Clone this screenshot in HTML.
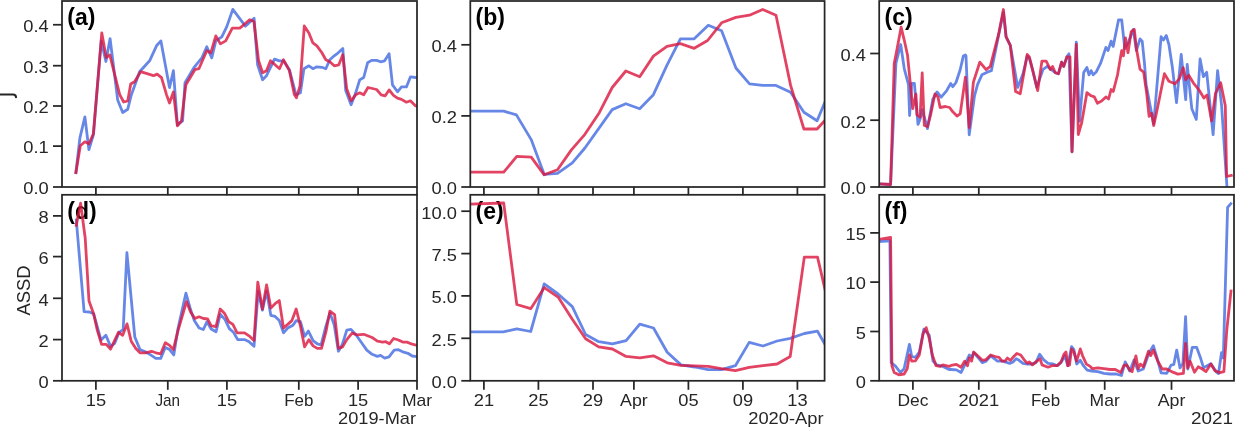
<!DOCTYPE html><html><head><meta charset="utf-8"><style>html,body{margin:0;padding:0;background:#fff;overflow:hidden}svg{display:block;will-change:transform}</style></head><body><svg width="1235" height="427" viewBox="0 0 1235 427">
<rect width="1235" height="427" fill="#fff"/>
<g font-family="&quot;Liberation Sans&quot;, sans-serif" fill="#262626">
<clipPath id="clipa"><rect x="62" y="1.0" width="355" height="186.0"/></clipPath>
<text x="67.3" y="24.7" font-size="23" font-weight="bold" fill="#000">(a)</text>
<polyline clip-path="url(#clipa)" points="75.9,172.6 79.9,137.8 84.9,116.9 88.9,149.7 93.4,134.8 101.2,41.0 105.9,61.5 110.1,38.6 117.7,100.0 122.7,112.5 127.7,109.3 131.3,95.0 139.6,71.7 149.6,60.8 156.5,45.8 160.9,40.9 169.5,87.6 173.4,70.7 177.4,124.9 182.6,120.9 185.0,82.7 193.9,67.7 201.9,57.8 206.8,46.8 211.8,57.8 215.8,40.9 221.8,36.9 226.7,26.9 232.8,9.4 245.4,26.2 254.1,18.3 257.6,64.8 262.6,79.7 266.5,75.7 274.5,59.2 279.5,60.8 283.5,60.8 289.4,69.7 296.0,94.8 300.4,92.8 303.9,68.7 308.9,65.8 312.9,68.7 316.9,66.8 321.9,67.3 325.8,68.7 329.8,59.8 334.2,55.8 338.2,52.8 342.8,48.4 345.7,90.6 351.1,104.8 355.7,92.8 359.7,79.9 363.7,77.5 367.6,62.8 371.6,60.4 376.6,60.4 380.6,61.8 384.6,60.8 389.1,53.8 392.5,84.9 397.5,91.8 401.5,86.9 406.4,86.9 410.4,76.9 415.4,77.5 419.0,77.5" fill="none" stroke="rgba(65,105,225,0.8)" stroke-width="2.8" stroke-linejoin="round" stroke-linecap="square"/>
<polyline clip-path="url(#clipa)" points="75.9,172.6 80.3,145.7 84.9,141.8 88.9,143.8 93.4,133.8 101.8,32.9 106.2,57.5 109.8,55.0 119.7,94.6 123.7,102.0 127.7,101.0 130.7,84.0 134.6,81.7 140.6,71.7 153.5,75.7 157.1,74.1 161.5,77.7 166.5,94.6 169.5,103.0 173.4,92.0 177.4,125.8 181.4,120.9 185.9,84.7 194.9,69.7 198.9,68.7 206.8,50.8 210.8,52.8 215.8,35.9 220.4,43.9 225.7,40.9 232.3,28.1 239.8,28.1 242.6,25.8 249.6,19.7 253.9,21.5 258.6,60.8 262.6,72.7 266.5,70.7 270.5,60.8 279.5,68.7 283.5,59.8 289.4,70.7 294.4,94.6 296.4,97.8 300.0,85.9 304.3,25.9 308.9,32.9 312.9,42.9 316.9,45.9 321.9,52.8 325.8,59.8 329.8,61.8 334.2,65.8 338.8,64.8 342.8,54.8 346.7,88.6 351.1,100.8 355.7,94.8 359.7,92.8 363.7,94.8 368.0,87.5 376.6,89.5 381.2,94.8 385.2,95.8 389.1,89.9 393.5,95.4 397.5,98.2 401.5,99.4 406.4,102.2 410.4,100.8 415.4,105.8 419.0,106.0" fill="none" stroke="rgba(220,20,60,0.8)" stroke-width="2.8" stroke-linejoin="round" stroke-linecap="square"/>
<rect x="62" y="1.0" width="355" height="186.0" fill="none" stroke="#262626" stroke-width="1.75"/>
<line x1="53.0" y1="24.75" x2="62" y2="24.75" stroke="#262626" stroke-width="1.75"/>
<text x="48.70" y="32.05" text-anchor="end" font-size="17.0" textLength="25.44" lengthAdjust="spacingAndGlyphs">0.4</text>
<line x1="53.0" y1="65.7" x2="62" y2="65.7" stroke="#262626" stroke-width="1.75"/>
<text x="48.70" y="73.00" text-anchor="end" font-size="17.0" textLength="25.44" lengthAdjust="spacingAndGlyphs">0.3</text>
<line x1="53.0" y1="106.0" x2="62" y2="106.0" stroke="#262626" stroke-width="1.75"/>
<text x="48.70" y="113.30" text-anchor="end" font-size="17.0" textLength="25.44" lengthAdjust="spacingAndGlyphs">0.2</text>
<line x1="53.0" y1="146.1" x2="62" y2="146.1" stroke="#262626" stroke-width="1.75"/>
<text x="48.70" y="153.40" text-anchor="end" font-size="17.0" textLength="25.44" lengthAdjust="spacingAndGlyphs">0.1</text>
<line x1="53.0" y1="187.0" x2="62" y2="187.0" stroke="#262626" stroke-width="1.75"/>
<text x="48.70" y="194.30" text-anchor="end" font-size="17.0" textLength="25.44" lengthAdjust="spacingAndGlyphs">0.0</text>
<line x1="95.9" y1="187.0" x2="95.9" y2="195.2" stroke="#262626" stroke-width="1.75"/>
<line x1="167.8" y1="187.0" x2="167.8" y2="195.2" stroke="#262626" stroke-width="1.75"/>
<line x1="226.9" y1="187.0" x2="226.9" y2="195.2" stroke="#262626" stroke-width="1.75"/>
<line x1="298.8" y1="187.0" x2="298.8" y2="195.2" stroke="#262626" stroke-width="1.75"/>
<line x1="358.1" y1="187.0" x2="358.1" y2="195.2" stroke="#262626" stroke-width="1.75"/>
<line x1="417.0" y1="187.0" x2="417.0" y2="195.2" stroke="#262626" stroke-width="1.75"/>
<clipPath id="clipb"><rect x="470.3" y="1.0" width="354.3" height="186.0"/></clipPath>
<text x="475.6" y="24.7" font-size="23" font-weight="bold" fill="#000">(b)</text>
<polyline clip-path="url(#clipb)" points="470.0,111.1 503.7,111.1 516.4,114.9 531.2,139.6 544.2,174.4 557.5,173.3 572.3,162.8 584.9,148.0 612.2,109.6 625.8,103.7 639.7,108.8 653.4,94.7 667.0,65.1 680.4,38.8 694.2,38.8 708.3,25.3 721.6,30.7 735.9,68.0 749.5,83.8 762.7,85.4 776.0,85.4 790.6,92.3 803.9,112.3 817.1,120.8 830.0,90.0" fill="none" stroke="rgba(65,105,225,0.8)" stroke-width="2.8" stroke-linejoin="round" stroke-linecap="square"/>
<polyline clip-path="url(#clipb)" points="470.0,172.2 503.7,172.2 516.8,156.4 531.2,157.1 544.2,174.8 557.5,169.7 571.2,150.1 584.9,134.3 599.3,112.7 612.2,87.5 625.8,71.0 639.7,76.7 653.4,56.1 667.0,46.3 680.4,43.7 694.2,48.3 707.6,40.5 721.6,22.8 735.9,17.4 749.5,15.2 762.7,9.5 776.0,15.2 790.6,85.4 803.9,129.0 817.1,129.0 830.0,115.0" fill="none" stroke="rgba(220,20,60,0.8)" stroke-width="2.8" stroke-linejoin="round" stroke-linecap="square"/>
<rect x="470.3" y="1.0" width="354.3" height="186.0" fill="none" stroke="#262626" stroke-width="1.75"/>
<line x1="461.3" y1="44.8" x2="470.3" y2="44.8" stroke="#262626" stroke-width="1.75"/>
<text x="457.00" y="52.10" text-anchor="end" font-size="17.0" textLength="25.44" lengthAdjust="spacingAndGlyphs">0.4</text>
<line x1="461.3" y1="115.9" x2="470.3" y2="115.9" stroke="#262626" stroke-width="1.75"/>
<text x="457.00" y="123.20" text-anchor="end" font-size="17.0" textLength="25.44" lengthAdjust="spacingAndGlyphs">0.2</text>
<line x1="461.3" y1="187.0" x2="470.3" y2="187.0" stroke="#262626" stroke-width="1.75"/>
<text x="457.00" y="194.30" text-anchor="end" font-size="17.0" textLength="25.44" lengthAdjust="spacingAndGlyphs">0.0</text>
<line x1="483.9" y1="187.0" x2="483.9" y2="195.2" stroke="#262626" stroke-width="1.75"/>
<line x1="538.4" y1="187.0" x2="538.4" y2="195.2" stroke="#262626" stroke-width="1.75"/>
<line x1="593.0" y1="187.0" x2="593.0" y2="195.2" stroke="#262626" stroke-width="1.75"/>
<line x1="633.9" y1="187.0" x2="633.9" y2="195.2" stroke="#262626" stroke-width="1.75"/>
<line x1="688.4" y1="187.0" x2="688.4" y2="195.2" stroke="#262626" stroke-width="1.75"/>
<line x1="742.9" y1="187.0" x2="742.9" y2="195.2" stroke="#262626" stroke-width="1.75"/>
<line x1="797.4" y1="187.0" x2="797.4" y2="195.2" stroke="#262626" stroke-width="1.75"/>
<clipPath id="clipc"><rect x="879.2" y="1.0" width="354.79999999999995" height="186.0"/></clipPath>
<text x="884.5" y="24.7" font-size="23" font-weight="bold" fill="#000">(c)</text>
<polyline clip-path="url(#clipc)" points="879.0,183.8 890.6,184.5 895.9,63.5 900.7,44.5 904.3,68.8 908.5,84.6 909.6,115.5 911.7,83.5 914.4,83.5 918.0,124.4 920.1,119.1 922.2,109.6 927.5,128.6 932.8,99.3 937.0,92.0 941.2,97.2 946.5,90.9 950.7,83.5 952.8,86.7 956.0,82.5 960.2,69.8 963.3,56.1 965.4,55.0 966.0,56.0 969.2,134.8 974.5,95.8 977.6,84.3 981.9,74.8 988.2,71.7 991.4,70.6 998.7,35.0 1003.4,12.0 1006.1,36.9 1010.3,45.3 1017.7,87.4 1023.0,73.8 1027.2,56.0 1029.3,58.0 1032.5,69.5 1036.7,87.4 1043.0,69.5 1047.2,66.3 1051.4,69.6 1055.3,72.7 1058.4,73.8 1061.6,62.2 1063.7,66.4 1066.9,56.9 1069.0,53.8 1072.0,151.8 1076.3,42.2 1079.5,121.1 1083.7,72.6 1086.9,67.5 1089.0,74.8 1091.1,70.6 1093.2,74.8 1096.4,71.7 1100.6,63.2 1105.9,47.4 1108.0,50.6 1111.1,41.1 1113.2,46.4 1118.5,20.0 1121.7,20.0 1124.8,48.5 1128.4,42.2 1133.3,29.5 1136.4,50.6 1140.0,38.9 1142.2,41.2 1144.4,62.3 1146.1,84.4 1150.7,108.7 1153.7,124.0 1161.1,36.7 1163.4,40.0 1166.3,35.6 1168.9,44.5 1172.3,66.7 1176.5,102.6 1181.2,54.5 1185.7,99.6 1187.2,64.5 1191.8,108.7 1196.3,119.4 1200.1,59.0 1203.4,76.7 1206.7,72.3 1213.1,134.6 1217.6,70.7 1221.6,105.7 1227.5,195.0" fill="none" stroke="rgba(65,105,225,0.8)" stroke-width="2.8" stroke-linejoin="round" stroke-linecap="square"/>
<polyline clip-path="url(#clipc)" points="879.0,183.8 890.6,184.5 894.2,63.5 896.9,49.8 901.1,27.2 904.3,40.3 907.5,55.0 909.6,76.1 912.7,108.6 915.9,94.0 917.0,114.9 920.1,117.0 922.2,73.0 924.3,125.5 927.5,126.5 930.6,114.9 934.9,94.0 938.0,97.0 940.1,107.5 945.4,106.5 949.6,107.5 952.8,111.8 957.0,116.0 960.2,113.9 965.4,77.2 969.2,127.5 973.4,82.1 979.8,62.2 986.1,69.6 990.3,66.4 998.7,33.7 1003.4,9.5 1006.1,36.9 1010.3,45.3 1015.6,91.6 1020.2,93.7 1027.2,54.4 1029.3,56.9 1032.5,69.5 1037.7,90.6 1041.9,61.1 1046.2,61.1 1050.4,69.6 1052.5,66.4 1055.3,72.7 1058.4,73.8 1061.6,62.2 1063.7,66.4 1066.9,56.9 1070.0,56.9 1072.0,151.8 1076.3,44.3 1078.3,134.5 1081.6,123.2 1086.9,92.7 1091.1,95.8 1094.3,96.9 1097.4,103.2 1101.6,101.1 1105.9,96.9 1108.6,99.0 1111.1,89.5 1113.2,91.6 1117.5,75.0 1121.7,50.6 1123.4,55.9 1125.5,37.9 1128.0,52.7 1131.2,31.6 1134.3,29.5 1136.4,48.5 1140.0,69.1 1143.7,72.2 1146.7,93.5 1149.1,116.3 1151.6,113.3 1153.7,125.5 1156.7,111.8 1159.8,96.5 1164.4,73.7 1168.9,81.3 1175.0,83.8 1179.6,78.3 1183.2,67.6 1185.7,79.8 1188.7,75.2 1193.3,82.8 1199.4,90.5 1203.9,98.1 1207.0,95.0 1211.6,120.9 1215.5,93.5 1220.7,82.8 1225.3,105.7 1226.6,176.5 1231.3,175.4" fill="none" stroke="rgba(220,20,60,0.8)" stroke-width="2.8" stroke-linejoin="round" stroke-linecap="square"/>
<rect x="879.2" y="1.0" width="354.79999999999995" height="186.0" fill="none" stroke="#262626" stroke-width="1.75"/>
<line x1="870.2" y1="53.5" x2="879.2" y2="53.5" stroke="#262626" stroke-width="1.75"/>
<text x="865.90" y="60.80" text-anchor="end" font-size="17.0" textLength="25.44" lengthAdjust="spacingAndGlyphs">0.4</text>
<line x1="870.2" y1="120.2" x2="879.2" y2="120.2" stroke="#262626" stroke-width="1.75"/>
<text x="865.90" y="127.50" text-anchor="end" font-size="17.0" textLength="25.44" lengthAdjust="spacingAndGlyphs">0.2</text>
<line x1="870.2" y1="187.0" x2="879.2" y2="187.0" stroke="#262626" stroke-width="1.75"/>
<text x="865.90" y="194.30" text-anchor="end" font-size="17.0" textLength="25.44" lengthAdjust="spacingAndGlyphs">0.0</text>
<line x1="912.9" y1="187.0" x2="912.9" y2="195.2" stroke="#262626" stroke-width="1.75"/>
<line x1="978.8" y1="187.0" x2="978.8" y2="195.2" stroke="#262626" stroke-width="1.75"/>
<line x1="1045.6" y1="187.0" x2="1045.6" y2="195.2" stroke="#262626" stroke-width="1.75"/>
<line x1="1104.7" y1="187.0" x2="1104.7" y2="195.2" stroke="#262626" stroke-width="1.75"/>
<line x1="1171.5" y1="187.0" x2="1171.5" y2="195.2" stroke="#262626" stroke-width="1.75"/>
<clipPath id="clipd"><rect x="62" y="194.8" width="355" height="186.0"/></clipPath>
<text x="67.3" y="219.20000000000002" font-size="23" font-weight="bold" fill="#000">(d)</text>
<polyline clip-path="url(#clipd)" points="76.3,220.0 84.1,311.6 89.4,312.0 93.6,313.7 101.0,340.1 105.9,335.3 110.5,346.4 114.7,343.3 118.9,332.7 123.2,329.6 126.9,252.7 134.8,337.0 140.0,349.6 145.3,351.7 150.6,354.9 155.8,358.4 160.7,358.4 165.3,347.5 169.6,349.6 173.8,354.9 178.0,328.5 185.9,293.2 190.1,308.0 194.3,320.6 199.1,328.0 203.4,329.5 207.0,321.7 211.2,329.0 216.0,331.8 220.2,314.3 225.1,319.6 229.3,328.6 233.5,332.2 237.7,339.6 244.5,339.6 249.1,341.7 254.0,346.3 258.2,291.1 262.4,310.1 266.6,291.1 270.8,315.3 275.1,316.4 279.3,320.6 283.5,332.8 287.7,328.0 293.0,325.3 296.2,320.6 300.4,321.6 304.6,336.4 308.4,331.1 313.1,340.6 317.3,343.8 321.1,344.8 325.7,326.9 330.0,313.2 334.2,324.8 338.4,351.2 342.2,344.8 346.8,330.1 351.0,329.4 356.3,335.3 361.6,342.7 366.8,350.1 372.1,354.3 377.4,356.4 380.5,355.4 384.7,358.1 389.0,356.8 394.2,350.1 398.4,349.7 403.7,352.2 407.9,353.3 412.2,356.0 419.0,357.0" fill="none" stroke="rgba(65,105,225,0.8)" stroke-width="2.8" stroke-linejoin="round" stroke-linecap="square"/>
<polyline clip-path="url(#clipd)" points="76.3,225.3 80.6,203.2 85.2,238.0 89.0,301.1 93.6,313.7 97.4,330.6 101.6,344.3 106.3,344.3 110.5,349.2 118.5,332.3 122.7,335.3 127.0,323.9 131.2,341.2 135.8,348.5 140.0,352.8 145.3,352.8 151.6,351.3 155.8,352.8 160.7,353.8 165.3,342.8 169.6,345.4 173.3,349.6 178.0,330.6 186.5,301.6 190.7,312.2 194.9,318.5 199.1,316.8 203.4,318.5 207.6,318.9 211.2,325.9 216.0,326.5 220.2,309.0 224.4,313.2 228.7,321.7 232.9,324.4 237.1,332.8 244.5,332.8 249.8,336.4 254.0,340.6 257.8,282.2 262.4,309.0 266.6,284.8 270.8,308.0 275.1,303.7 279.3,300.6 283.5,328.0 287.7,324.4 291.9,320.6 296.2,309.0 300.4,325.9 304.6,346.9 308.9,339.6 313.1,345.9 317.3,348.4 321.5,348.4 326.1,331.1 329.9,311.1 334.6,314.7 338.4,348.4 342.6,346.9 346.8,339.6 352.1,333.2 357.3,334.9 363.7,334.3 372.1,337.5 377.4,341.2 382.6,342.1 385.8,341.7 389.4,343.8 393.6,338.5 398.4,340.0 402.7,342.1 406.9,342.1 412.2,344.2 419.0,345.8" fill="none" stroke="rgba(220,20,60,0.8)" stroke-width="2.8" stroke-linejoin="round" stroke-linecap="square"/>
<rect x="62" y="194.8" width="355" height="186.0" fill="none" stroke="#262626" stroke-width="1.75"/>
<line x1="53.0" y1="215.9" x2="62" y2="215.9" stroke="#262626" stroke-width="1.75"/>
<text x="48.70" y="223.20" text-anchor="end" font-size="17.0" textLength="10.18" lengthAdjust="spacingAndGlyphs">8</text>
<line x1="53.0" y1="256.6" x2="62" y2="256.6" stroke="#262626" stroke-width="1.75"/>
<text x="48.70" y="263.90" text-anchor="end" font-size="17.0" textLength="10.18" lengthAdjust="spacingAndGlyphs">6</text>
<line x1="53.0" y1="298.3" x2="62" y2="298.3" stroke="#262626" stroke-width="1.75"/>
<text x="48.70" y="305.60" text-anchor="end" font-size="17.0" textLength="10.18" lengthAdjust="spacingAndGlyphs">4</text>
<line x1="53.0" y1="339.6" x2="62" y2="339.6" stroke="#262626" stroke-width="1.75"/>
<text x="48.70" y="346.90" text-anchor="end" font-size="17.0" textLength="10.18" lengthAdjust="spacingAndGlyphs">2</text>
<line x1="53.0" y1="380.8" x2="62" y2="380.8" stroke="#262626" stroke-width="1.75"/>
<text x="48.70" y="388.10" text-anchor="end" font-size="17.0" textLength="10.18" lengthAdjust="spacingAndGlyphs">0</text>
<line x1="95.9" y1="380.8" x2="95.9" y2="389.8" stroke="#262626" stroke-width="1.75"/>
<text x="95.90" y="405.80" text-anchor="middle" font-size="17.0" textLength="20.35" lengthAdjust="spacingAndGlyphs">15</text>
<line x1="167.8" y1="380.8" x2="167.8" y2="389.8" stroke="#262626" stroke-width="1.75"/>
<text x="167.80" y="405.80" text-anchor="middle" font-size="17.0" textLength="24.67" lengthAdjust="spacingAndGlyphs">Jan</text>
<line x1="226.9" y1="380.8" x2="226.9" y2="389.8" stroke="#262626" stroke-width="1.75"/>
<text x="226.90" y="405.80" text-anchor="middle" font-size="17.0" textLength="20.35" lengthAdjust="spacingAndGlyphs">15</text>
<line x1="298.8" y1="380.8" x2="298.8" y2="389.8" stroke="#262626" stroke-width="1.75"/>
<text x="298.80" y="405.80" text-anchor="middle" font-size="17.0" textLength="29.20" lengthAdjust="spacingAndGlyphs">Feb</text>
<line x1="358.1" y1="380.8" x2="358.1" y2="389.8" stroke="#262626" stroke-width="1.75"/>
<text x="358.10" y="405.80" text-anchor="middle" font-size="17.0" textLength="20.35" lengthAdjust="spacingAndGlyphs">15</text>
<line x1="417.0" y1="380.8" x2="417.0" y2="389.8" stroke="#262626" stroke-width="1.75"/>
<text x="417.00" y="405.80" text-anchor="middle" font-size="17.0" textLength="30.19" lengthAdjust="spacingAndGlyphs">Mar</text>
<text x="416.00" y="423.8" text-anchor="end" font-size="17.0" textLength="77.87" lengthAdjust="spacingAndGlyphs">2019-Mar</text>
<clipPath id="clipe"><rect x="470.3" y="194.8" width="354.3" height="186.0"/></clipPath>
<text x="475.6" y="219.20000000000002" font-size="23" font-weight="bold" fill="#000">(e)</text>
<polyline clip-path="url(#clipe)" points="470.0,331.9 503.3,331.9 516.8,328.8 530.7,331.5 544.2,283.9 558.1,294.0 572.3,306.6 585.6,334.5 598.7,341.7 612.4,343.8 626.1,340.6 639.8,324.2 653.5,328.0 667.2,352.2 681.0,364.9 694.7,367.0 708.2,369.6 721.3,369.6 735.4,365.7 749.2,342.4 763.0,346.0 777.1,341.0 790.2,338.4 804.3,333.5 817.5,331.2 831.0,355.0" fill="none" stroke="rgba(65,105,225,0.8)" stroke-width="2.8" stroke-linejoin="round" stroke-linecap="square"/>
<polyline clip-path="url(#clipe)" points="470.0,204.2 503.7,203.0 516.8,304.5 530.7,308.7 544.2,287.7 558.1,297.1 572.3,319.3 585.6,338.7 598.7,346.9 612.4,349.0 626.1,356.4 639.8,357.9 653.5,355.8 667.2,362.8 681.0,365.3 694.7,365.9 708.2,366.3 721.3,368.6 735.4,370.6 749.2,367.3 763.0,365.7 777.1,364.0 790.2,356.5 804.3,257.1 817.5,257.1 831.0,315.0" fill="none" stroke="rgba(220,20,60,0.8)" stroke-width="2.8" stroke-linejoin="round" stroke-linecap="square"/>
<rect x="470.3" y="194.8" width="354.3" height="186.0" fill="none" stroke="#262626" stroke-width="1.75"/>
<line x1="461.3" y1="211.2" x2="470.3" y2="211.2" stroke="#262626" stroke-width="1.75"/>
<text x="457.00" y="218.50" text-anchor="end" font-size="17.0" textLength="35.62" lengthAdjust="spacingAndGlyphs">10.0</text>
<line x1="461.3" y1="253.6" x2="470.3" y2="253.6" stroke="#262626" stroke-width="1.75"/>
<text x="457.00" y="260.90" text-anchor="end" font-size="17.0" textLength="25.44" lengthAdjust="spacingAndGlyphs">7.5</text>
<line x1="461.3" y1="295.9" x2="470.3" y2="295.9" stroke="#262626" stroke-width="1.75"/>
<text x="457.00" y="303.20" text-anchor="end" font-size="17.0" textLength="25.44" lengthAdjust="spacingAndGlyphs">5.0</text>
<line x1="461.3" y1="338.3" x2="470.3" y2="338.3" stroke="#262626" stroke-width="1.75"/>
<text x="457.00" y="345.60" text-anchor="end" font-size="17.0" textLength="25.44" lengthAdjust="spacingAndGlyphs">2.5</text>
<line x1="461.3" y1="380.8" x2="470.3" y2="380.8" stroke="#262626" stroke-width="1.75"/>
<text x="457.00" y="388.10" text-anchor="end" font-size="17.0" textLength="25.44" lengthAdjust="spacingAndGlyphs">0.0</text>
<line x1="483.9" y1="380.8" x2="483.9" y2="389.8" stroke="#262626" stroke-width="1.75"/>
<text x="483.90" y="405.80" text-anchor="middle" font-size="17.0" textLength="20.35" lengthAdjust="spacingAndGlyphs">21</text>
<line x1="538.4" y1="380.8" x2="538.4" y2="389.8" stroke="#262626" stroke-width="1.75"/>
<text x="538.40" y="405.80" text-anchor="middle" font-size="17.0" textLength="20.35" lengthAdjust="spacingAndGlyphs">25</text>
<line x1="593.0" y1="380.8" x2="593.0" y2="389.8" stroke="#262626" stroke-width="1.75"/>
<text x="593.00" y="405.80" text-anchor="middle" font-size="17.0" textLength="20.35" lengthAdjust="spacingAndGlyphs">29</text>
<line x1="633.9" y1="380.8" x2="633.9" y2="389.8" stroke="#262626" stroke-width="1.75"/>
<text x="633.90" y="405.80" text-anchor="middle" font-size="17.0" textLength="27.68" lengthAdjust="spacingAndGlyphs">Apr</text>
<line x1="688.4" y1="380.8" x2="688.4" y2="389.8" stroke="#262626" stroke-width="1.75"/>
<text x="688.40" y="405.80" text-anchor="middle" font-size="17.0" textLength="20.35" lengthAdjust="spacingAndGlyphs">05</text>
<line x1="742.9" y1="380.8" x2="742.9" y2="389.8" stroke="#262626" stroke-width="1.75"/>
<text x="742.90" y="405.80" text-anchor="middle" font-size="17.0" textLength="20.35" lengthAdjust="spacingAndGlyphs">09</text>
<line x1="797.4" y1="380.8" x2="797.4" y2="389.8" stroke="#262626" stroke-width="1.75"/>
<text x="797.40" y="405.80" text-anchor="middle" font-size="17.0" textLength="20.35" lengthAdjust="spacingAndGlyphs">13</text>
<text x="823.60" y="423.8" text-anchor="end" font-size="17.0" textLength="75.36" lengthAdjust="spacingAndGlyphs">2020-Apr</text>
<clipPath id="clipf"><rect x="879.2" y="194.8" width="354.79999999999995" height="186.0"/></clipPath>
<text x="884.5" y="219.20000000000002" font-size="23" font-weight="bold" fill="#000">(f)</text>
<polyline clip-path="url(#clipf)" points="879.0,241.5 889.9,240.8 891.2,362.6 895.7,366.4 900.3,372.5 904.1,368.7 909.4,344.3 911.7,356.5 915.5,357.3 919.3,352.0 923.9,329.1 929.2,335.2 933.0,361.1 936.8,364.9 942.9,366.4 949.0,369.5 951.1,369.5 956.4,369.9 961.0,372.5 964.8,364.9 969.3,355.0 971.6,357.3 973.9,352.7 982.3,362.6 986.1,361.1 990.7,355.8 997.5,361.1 1002.8,361.1 1009.7,363.4 1013.0,361.9 1016.1,358.8 1019.1,360.3 1022.9,363.4 1027.5,364.1 1031.3,364.1 1035.9,362.6 1039.7,354.2 1043.5,359.6 1048.0,363.4 1052.6,363.8 1057.2,365.7 1061.0,362.6 1064.8,355.8 1067.8,365.7 1071.6,346.6 1073.9,349.7 1076.7,364.1 1080.3,360.3 1083.4,365.7 1087.2,370.2 1091.7,371.0 1097.8,371.7 1103.9,373.3 1110.0,374.0 1116.1,374.0 1121.4,375.5 1125.2,361.9 1129.8,371.0 1134.0,360.0 1138.2,371.0 1142.0,369.5 1143.3,369.0 1148.9,353.4 1153.3,345.6 1156.7,356.7 1161.1,372.8 1166.7,373.4 1171.1,365.2 1173.8,364.5 1176.7,350.1 1180.0,367.9 1182.9,363.4 1185.6,316.7 1187.8,369.0 1192.3,347.4 1196.7,347.4 1200.1,356.7 1203.5,367.7 1210.9,363.7 1215.9,371.6 1218.5,373.6 1221.5,352.7 1223.3,358.0 1227.6,207.3 1230.8,203.6" fill="none" stroke="rgba(65,105,225,0.8)" stroke-width="2.8" stroke-linejoin="round" stroke-linecap="square"/>
<polyline clip-path="url(#clipf)" points="879.0,239.4 890.6,237.3 891.9,365.7 894.2,372.5 898.8,374.8 904.1,374.0 907.2,368.7 909.4,355.0 911.7,361.1 915.5,360.8 919.3,355.0 923.1,333.7 926.2,327.6 929.2,338.3 932.3,355.0 936.1,365.7 939.9,366.4 942.9,364.9 949.0,366.4 951.1,365.4 956.4,364.4 961.0,367.2 964.8,361.1 967.5,365.7 969.3,358.0 971.6,361.1 973.6,352.0 977.7,355.8 982.3,360.3 986.1,359.6 990.7,355.0 995.2,356.5 999.0,357.3 1002.1,361.1 1005.1,361.1 1007.4,358.0 1010.4,360.3 1013.0,357.3 1016.8,353.5 1020.7,355.0 1024.5,360.3 1027.5,363.4 1029.5,361.9 1032.5,364.9 1035.9,361.9 1040.1,358.8 1042.0,364.9 1048.0,367.2 1051.9,365.7 1057.2,365.7 1061.0,361.9 1064.0,354.2 1066.0,352.0 1067.8,365.7 1069.5,365.0 1071.6,348.9 1073.9,352.0 1076.6,361.1 1080.3,348.9 1082.6,355.8 1086.4,364.1 1090.2,366.4 1092.5,368.7 1097.8,367.9 1103.9,368.7 1110.0,369.5 1115.3,369.5 1120.7,372.5 1123.7,365.7 1126.7,364.9 1129.8,370.2 1132.1,371.7 1135.9,355.8 1138.2,368.7 1140.4,364.1 1143.3,366.8 1148.5,351.2 1150.7,355.6 1153.3,350.1 1157.8,361.2 1162.2,369.0 1166.7,369.0 1172.3,371.9 1177.8,374.1 1183.4,373.4 1185.6,343.4 1187.8,367.9 1190.1,361.2 1194.5,372.3 1198.3,366.8 1202.3,369.0 1206.0,371.6 1210.9,364.0 1214.9,370.6 1219.9,372.6 1223.9,371.6 1226.8,329.9 1229.8,302.0 1231.0,291.0" fill="none" stroke="rgba(220,20,60,0.8)" stroke-width="2.8" stroke-linejoin="round" stroke-linecap="square"/>
<rect x="879.2" y="194.8" width="354.79999999999995" height="186.0" fill="none" stroke="#262626" stroke-width="1.75"/>
<line x1="870.2" y1="232.9" x2="879.2" y2="232.9" stroke="#262626" stroke-width="1.75"/>
<text x="865.90" y="240.20" text-anchor="end" font-size="17.0" textLength="20.35" lengthAdjust="spacingAndGlyphs">15</text>
<line x1="870.2" y1="282.1" x2="879.2" y2="282.1" stroke="#262626" stroke-width="1.75"/>
<text x="865.90" y="289.40" text-anchor="end" font-size="17.0" textLength="20.35" lengthAdjust="spacingAndGlyphs">10</text>
<line x1="870.2" y1="331.5" x2="879.2" y2="331.5" stroke="#262626" stroke-width="1.75"/>
<text x="865.90" y="338.80" text-anchor="end" font-size="17.0" textLength="10.18" lengthAdjust="spacingAndGlyphs">5</text>
<line x1="870.2" y1="380.8" x2="879.2" y2="380.8" stroke="#262626" stroke-width="1.75"/>
<text x="865.90" y="388.10" text-anchor="end" font-size="17.0" textLength="10.18" lengthAdjust="spacingAndGlyphs">0</text>
<line x1="912.9" y1="380.8" x2="912.9" y2="389.8" stroke="#262626" stroke-width="1.75"/>
<text x="912.90" y="405.80" text-anchor="middle" font-size="17.0" textLength="30.96" lengthAdjust="spacingAndGlyphs">Dec</text>
<line x1="978.8" y1="380.8" x2="978.8" y2="389.8" stroke="#262626" stroke-width="1.75"/>
<text x="978.80" y="405.80" text-anchor="middle" font-size="17.0" textLength="40.70" lengthAdjust="spacingAndGlyphs">2021</text>
<line x1="1045.6" y1="380.8" x2="1045.6" y2="389.8" stroke="#262626" stroke-width="1.75"/>
<text x="1045.60" y="405.80" text-anchor="middle" font-size="17.0" textLength="29.20" lengthAdjust="spacingAndGlyphs">Feb</text>
<line x1="1104.7" y1="380.8" x2="1104.7" y2="389.8" stroke="#262626" stroke-width="1.75"/>
<text x="1104.70" y="405.80" text-anchor="middle" font-size="17.0" textLength="30.19" lengthAdjust="spacingAndGlyphs">Mar</text>
<line x1="1171.5" y1="380.8" x2="1171.5" y2="389.8" stroke="#262626" stroke-width="1.75"/>
<text x="1171.50" y="405.80" text-anchor="middle" font-size="17.0" textLength="27.68" lengthAdjust="spacingAndGlyphs">Apr</text>
<text x="1233.00" y="423.8" text-anchor="end" font-size="17.0" textLength="41.90" lengthAdjust="spacingAndGlyphs">2021</text>
<path d="M -2 94.5 H 13 Q 16 94.5 16 97.3" fill="none" stroke="#262626" stroke-width="2.1" stroke-linecap="round"/>
<text transform="translate(29.8,290.6) rotate(-90)" text-anchor="middle" font-size="18" textLength="50" lengthAdjust="spacingAndGlyphs">ASSD</text>
</g></svg></body></html>
